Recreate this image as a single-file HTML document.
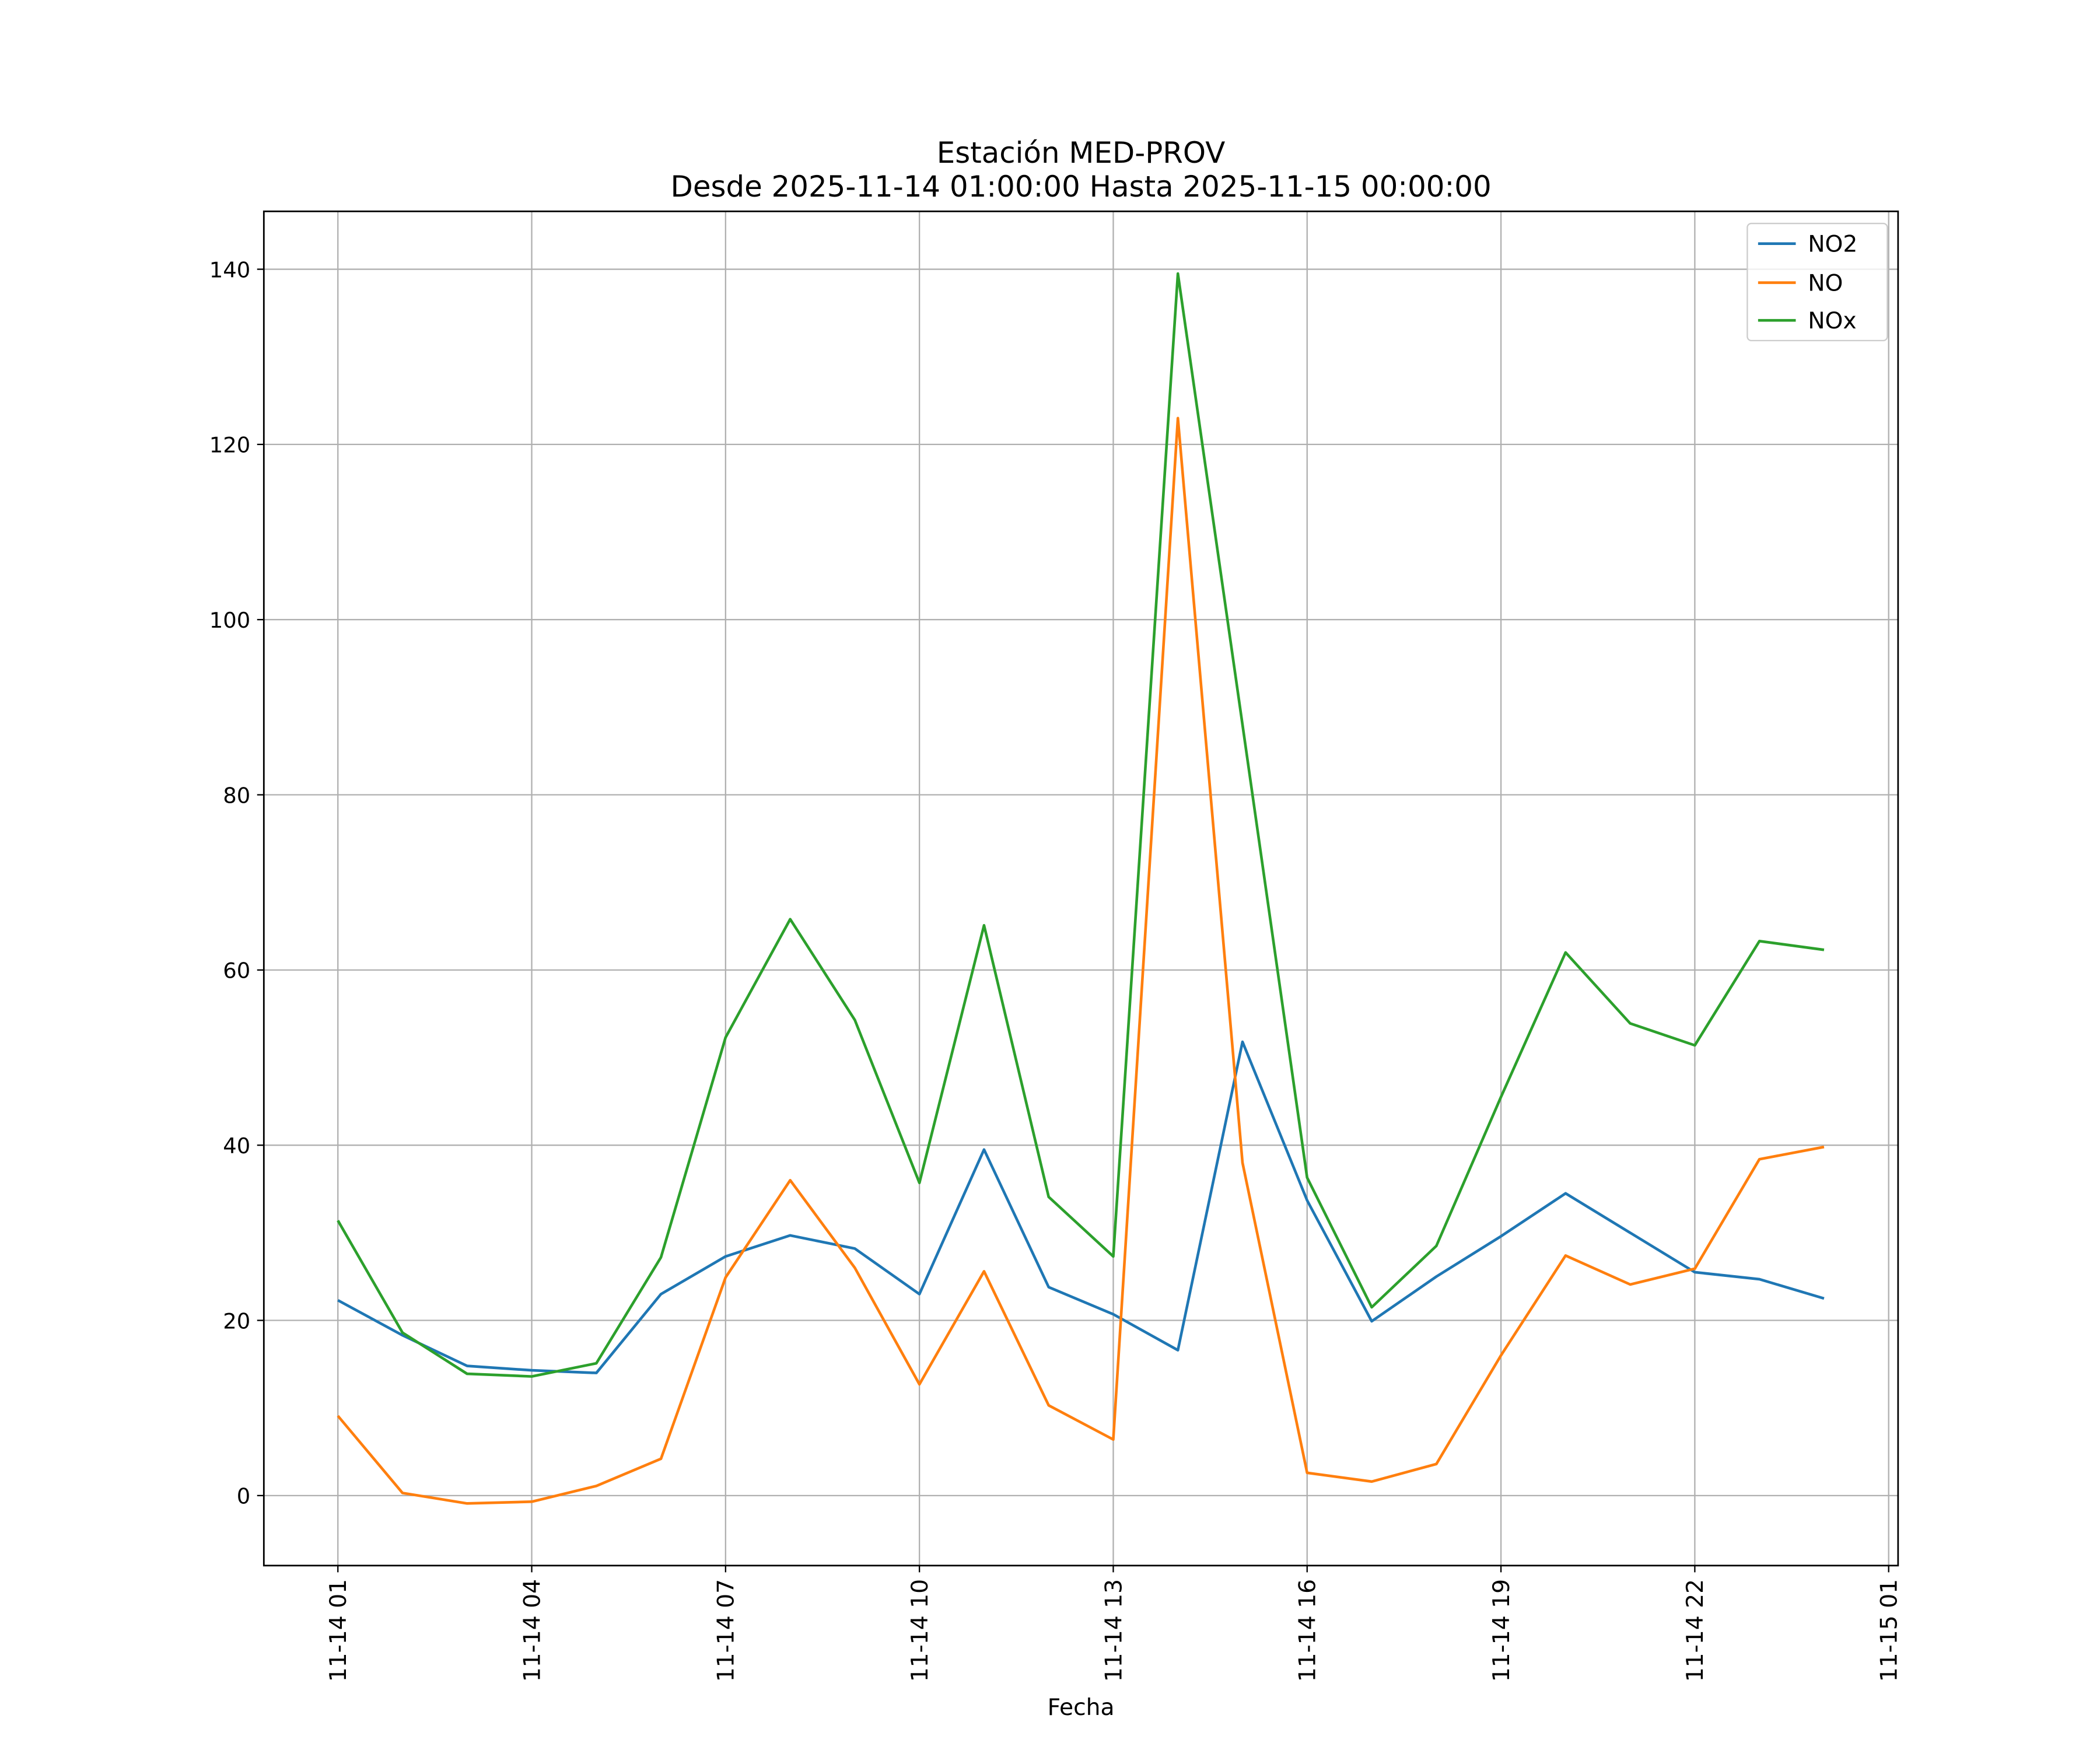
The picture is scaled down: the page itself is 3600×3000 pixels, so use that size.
<!DOCTYPE html>
<html><head><meta charset="utf-8"><style>
html,body{margin:0;padding:0;background:#fff;}
svg{display:block;font-family:"DejaVu Sans","Liberation Sans",sans-serif;}
</style></head><body>
<svg id="chart" width="3600" height="3000" viewBox="0 0 1560 1300" xmlns="http://www.w3.org/2000/svg">
<rect width="1560" height="1300" fill="#fff"/>
<text x="803" y="121" font-size="21.6" text-anchor="middle">Estación MED-PROV</text>
<text x="803" y="146" font-size="21.6" text-anchor="middle">Desde 2025-11-14 01:00:00 Hasta 2025-11-15 00:00:00</text>
<g id="grid"></g>
<g id="series"></g>
<rect x="196" y="157" width="1214" height="1006" fill="none" stroke="#000" stroke-width="1.2"/>
<g id="ticks"></g>
<text x="803" y="1274" font-size="17" text-anchor="middle">Fecha</text>
<g>
<rect x="1298" y="166" width="104" height="87" fill="#fff" fill-opacity="0.8" stroke="#ccc" rx="3"/>
<g><line x1="1306" y1="181" x2="1334" y2="181" stroke="#1f77b4" stroke-width="2"/><text x="1343" y="187" font-size="17">NO2</text></g>
<g><line x1="1306" y1="210" x2="1334" y2="210" stroke="#ff7f0e" stroke-width="2"/><text x="1343" y="216" font-size="17">NO</text></g>
<g><line x1="1306" y1="238" x2="1334" y2="238" stroke="#2ca02c" stroke-width="2"/><text x="1343" y="244" font-size="17">NOx</text></g>
</g>
</svg>
<script>
const hours = [1,2,3,4,5,6,7,8,9,10,11,12,13,14,15,16,17,18,19,20,21,22,23,24];
const no2 = [22.3,18.3,14.8,14.3,14.0,23.0,27.3,29.7,28.2,23.0,39.5,23.8,20.7,16.6,51.8,33.7,19.9,25.0,29.6,34.5,30.0,25.5,24.7,22.5];
const no = [9.1,0.3,-0.9,-0.7,1.1,4.2,24.9,36.0,26.0,12.7,25.6,10.3,6.4,123.0,38.0,2.6,1.6,3.6,16.0,27.4,24.1,25.9,38.4,39.8];
const nox = [31.4,18.6,13.9,13.6,15.1,27.2,52.3,65.8,54.3,35.7,65.1,34.1,27.3,139.5,88.0,36.3,21.5,28.5,45.5,62.0,53.9,51.4,63.3,62.3];
const yTicks = [0,20,40,60,80,100,120,140];
const xTickHours = [1,4,7,10,13,16,19,22,25];
const xTickLabels = ["11-14 01","11-14 04","11-14 07","11-14 10","11-14 13","11-14 16","11-14 19","11-14 22","11-15 01"];

const NS="http://www.w3.org/2000/svg";
const X0=196,X1=1410,Y0=157,Y1=1163;
function xs(h){return 251+(h-1)*48;}
function ys(v){return 1111-v*(911/140);}
const grid=document.getElementById('grid'),ticks=document.getElementById('ticks'),series=document.getElementById('series');
function mk(tag,attrs,parent){const e=document.createElementNS(NS,tag);for(const k in attrs)e.setAttribute(k,attrs[k]);parent.appendChild(e);return e;}
yTicks.forEach(v=>{
  const y=ys(v);
  const g=mk('line',{x1:X0,x2:X1,y1:y,y2:y,stroke:'#b0b0b0','stroke-width':1},grid);
  
  
  mk('line',{x1:X0-5,x2:X0,y1:y,y2:y,stroke:'#000','stroke-width':1},ticks);
  const t=mk('text',{x:X0-10,y:y+6,'font-size':16,'text-anchor':'end'},ticks);
  t.textContent=v;
  
  
});
xTickHours.forEach((h,i)=>{
  const x=xs(h);
  const g=mk('line',{x1:x,x2:x,y1:Y0,y2:Y1,stroke:'#b0b0b0','stroke-width':1},grid);
  
  
  mk('line',{x1:x,x2:x,y1:Y1,y2:Y1+5,stroke:'#000','stroke-width':1},ticks);
  const t=mk('text',{x:0,y:0,'font-size':17,'text-anchor':'end',transform:`translate(${x+6},${Y1+10}) rotate(-90)`},ticks);
  t.textContent=xTickLabels[i];
  
  
});
[[no2,'#1f77b4','no2-line'],[no,'#ff7f0e','no-line'],[nox,'#2ca02c','nox-line']].forEach(([d,c,n])=>{
  const p=mk('polyline',{points:d.map((v,i)=>xs(hours[i])+','+ys(v)).join(' '),fill:'none',stroke:c,'stroke-width':2,'stroke-linejoin':'round'},series);
  
  
});
</script>
</body></html>
